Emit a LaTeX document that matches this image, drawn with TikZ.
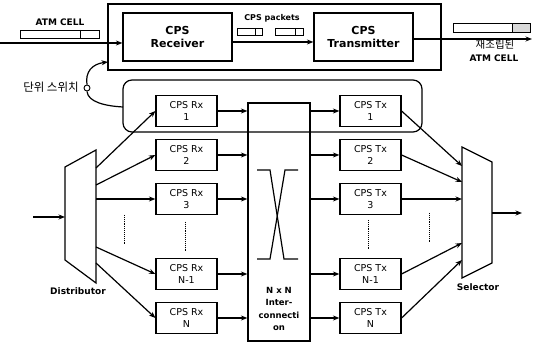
\documentclass[tikz,border=0pt]{standalone}
\usepackage{fontspec}
\setmainfont{DejaVu Sans}
\newfontfamily\kr{Noto Sans CJK KR}
\usetikzlibrary{arrows.meta}
\begin{document}
\begin{tikzpicture}[x=1pt,y=-1pt,>={Stealth[length=6.5pt,width=5pt]},line width=1.2pt,
 big/.style={draw,minimum width=#1,minimum height=48pt,align=center,font=\fontsize{11}{13}\selectfont\bfseries},
 cell/.style={draw,minimum width=61pt,minimum height=31pt,align=center,inner sep=1pt,font=\fontsize{9.5}{12}\selectfont},
 lbl/.style={font=\fontsize{9}{10}\selectfont\bfseries,align=center},
 dots/.style={densely dotted,line width=0.9pt}]
\useasboundingbox (0,0) rectangle (535,344);
\node[big=109pt] (recv) at (177.5,37) {CPS\\Receiver};
\node[big=99pt] (trans) at (363.5,37) {CPS\\Transmitter};
\draw (108,4) rectangle (441,70);
\node[draw,minimum width=62pt,minimum height=238pt] (ic) at (279,222) {};
\node[align=center,font=\fontsize{8.5}{12.5}\selectfont\bfseries] (nxn) at (279,309) {N x N\\Inter-\\connecti\\on};
\draw[rounded corners=9pt] (123,80) rectangle (422,132);
\draw (257,170) -- (270,170) -- (284,259) -- (298,259);
\draw (298,170) -- (285,170) -- (270,259) -- (257,259);
\foreach \i/\y/\n in {1/111/1,2/155/2,3/199/3,4/274/N-1,5/318/N}{
 \node[cell] (rx\i) at (186.5,\y) {CPS Rx\\\n};
 \node[cell] (tx\i) at (370.5,\y) {CPS Tx\\\n};
 \draw[->] (rx\i) -- (rx\i -| ic.west);
 \draw[->] (tx\i -| ic.east) -- (tx\i);
}
\draw (65,167) -- (96,150) -- (96,283) -- (65,260) -- cycle;
\node[lbl] (dist) at (78,291) {Distributor};
\coordinate (din) at (33,217);
\coordinate (dl) at (65,217);
\draw[->] (din) -- (dl);
\foreach \i/\y in {1/168,2/185,3/199,4/247,5/263}{
 \coordinate (d\i) at (96,\y);
 \draw[->] (d\i) -- (rx\i.west);
}
\draw (462,147) -- (492,162) -- (492,263) -- (462,278) -- cycle;
\node[lbl] (sel) at (478,287) {Selector};
\foreach \i/\y in {1/166,2/182,3/199,4/243,5/260}{
 \coordinate (s\i) at (462,\y);
 \draw[->] (tx\i.east) -- (s\i);
}
\coordinate (sout) at (492,213);
\coordinate (out) at (522,213);
\draw[->] (sout) -- (out);
\draw[dots] (124,215) -- (124,245);
\draw[dots] (185,222) -- (185,252);
\draw[dots] (368,220) -- (368,250);
\draw[dots] (429,213) -- (429,243);
\node[lbl] (atm) at (60,22) {ATM CELL};
\draw[line width=0.9pt] (20,30) rectangle (99,38);
\draw[line width=0.9pt] (80,30) -- (80,38);
\coordinate (in) at (0,43);
\draw[->] (in) -- (in -| recv.west);
\node[font=\fontsize{8}{9}\selectfont\bfseries] (pk) at (272,18) {CPS packets};
\foreach \a/\b/\c in {237/255/262,275/295/303}{
 \draw[line width=0.9pt] (\a,28) rectangle (\c,35);
 \draw[line width=0.9pt] (\b,28) -- (\b,35);
}
\draw[->] ([yshift=-5pt]recv.east) -- ([yshift=-5pt]trans.west);
\coordinate (cout) at (532,39);
\draw[->] ([yshift=-2pt]trans.east) -- (cout);
\draw[line width=0.9pt] (453,23) rectangle (530,32);
\draw[line width=0.9pt,fill=black!15] (512,23) rectangle (530,32);
\node[font=\kr\fontsize{10.5}{11}\selectfont] (re) at (495,45) {재조립된};
\node[lbl] (atm2) at (494,58) {ATM CELL};
\node[font=\kr\fontsize{11.5}{12}\selectfont] (sw) at (51,87) {단위 스위치};
\node[draw,circle,inner sep=0pt,minimum size=6pt,line width=0.9pt] (sc) at (87,88) {};
\coordinate (t1) at (108,62);
\coordinate (t2) at (123,107);
\draw[->] (sc.north) .. controls (85,72) and (92,64) .. (t1);
\draw (sc.south) .. controls (88,102) and (105,106) .. (t2);
\end{tikzpicture}
\end{document}
